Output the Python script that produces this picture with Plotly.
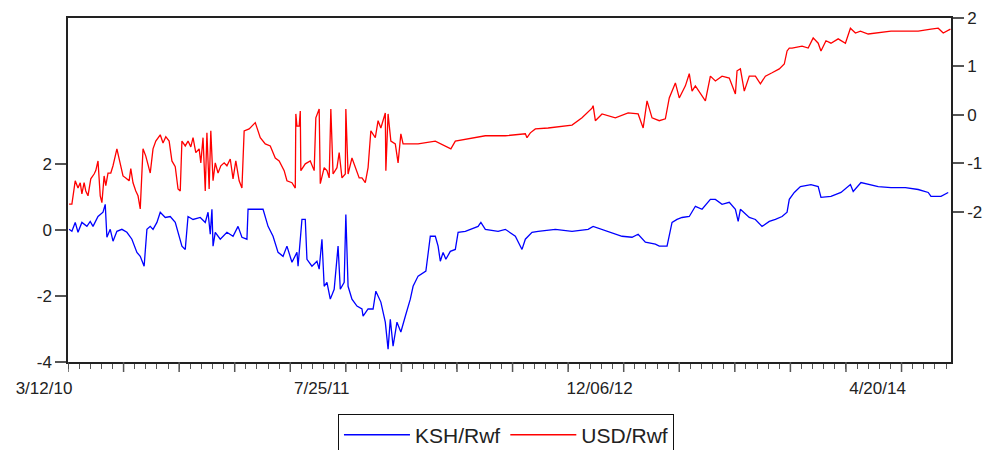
import plotly.graph_objects as go

# Day offsets are counted from 3/12/10 (first observation)
# KSH/Rwf (left axis): day offsets and values
DAYS_KSH = [2, 7, 13, 18, 25, 34, 40, 45, 54, 63, 67, 70, 76, 81, 88, 97, 106, 115, 124, 130,
            137, 142, 148, 153, 160, 166, 175, 184, 193, 205, 211, 216, 225, 238, 247, 252, 256, 259, 261, 265,
            274, 286, 297, 306, 313, 322, 324, 340, 351, 360, 369, 378, 387, 394, 403, 412, 414, 421, 427, 430,
            439, 448, 452, 457, 461, 466, 472, 479, 486, 490, 497, 500, 504, 511, 520, 529, 531, 540, 549, 554,
            563, 571, 576, 580, 585, 592, 599, 607, 616, 621, 630, 644, 652, 661, 666, 670, 675, 680, 688, 697,
            702, 715, 725, 738, 743, 751, 774, 787, 805, 817, 823, 835, 846, 877, 907, 936, 945, 961, 979, 997,
            1015, 1026, 1039, 1057, 1064, 1078, 1087, 1096, 1105, 1118, 1129, 1141, 1156, 1165, 1177, 1190, 1201, 1206, 1210, 1226,
            1237, 1249, 1262, 1273, 1285, 1294, 1298, 1307, 1318, 1337, 1350, 1355, 1373, 1391, 1408, 1413, 1427, 1440, 1458, 1481,
            1507, 1530, 1548, 1553, 1571, 1584]
KSH = [0.03, -0.03, 0.24, -0.06, 0.24, 0.12, 0.27, 0.12, 0.42, 0.55, 0.79, -0.21, 0.03, -0.33, -0.03, 0.03, -0.06, -0.27, -0.67, -0.79,
       -1.09, 0.03, 0.12, 0.03, 0.24, 0.55, 0.39, 0.42, 0.24, -0.48, -0.58, 0.42, 0.33, 0.39, 0.24, 0.55, -0.12, 0.64, -0.48, -0.06,
       -0.27, -0.06, -0.18, 0.12, -0.21, -0.27, 0.64, 0.64, 0.64, 0.12, -0.18, -0.67, -0.79, -0.48, -0.97, -0.67, -1.09, 0.33, 0.33, -0.88,
       -1.09, -0.94, -1.18, -0.27, -1.70, -1.58, -2.09, -1.79, -0.48, -1.79, -1.58, 0.48, -1.70, -2.09, -2.30, -2.39, -2.61, -2.39, -2.39, -1.85,
       -2.18, -2.79, -3.61, -2.70, -3.52, -2.79, -3.09, -2.61, -2.09, -1.70, -1.39, -1.24, -0.18, -0.18, -0.48, -0.94, -0.67, -0.88, -0.64, -0.58,
       -0.06, -0.03, 0.03, 0.12, 0.24, 0.03, -0.03, 0.03, -0.18, -0.58, -0.27, -0.06, -0.03, 0.03, -0.03, 0.03, 0.12, 0.03, -0.06, -0.18,
       -0.21, -0.12, -0.36, -0.42, -0.48, -0.48, 0.24, 0.33, 0.39, 0.42, 0.73, 0.64, 0.94, 0.94, 0.79, 0.85, 0.64, 0.27, 0.64, 0.39,
       0.33, 0.12, 0.27, 0.33, 0.42, 0.55, 0.94, 1.15, 1.33, 1.39, 1.33, 1.00, 1.03, 1.15, 1.39, 1.18, 1.45, 1.39, 1.33, 1.30,
       1.30, 1.24, 1.15, 1.03, 1.03, 1.15]

# USD/Rwf (right axis): day offsets and values
DAYS_USD = [2, 7, 13, 18, 22, 25, 29, 32, 36, 41, 47, 50, 54, 58, 61, 65, 68, 72, 77, 81,
            88, 94, 99, 104, 110, 113, 117, 122, 126, 130, 135, 140, 148, 153, 158, 166, 171, 176, 182, 187,
            193, 198, 202, 205, 211, 216, 221, 225, 230, 236, 239, 243, 247, 250, 254, 257, 261, 265, 270, 275,
            281, 286, 292, 297, 302, 308, 313, 317, 326, 337, 346, 355, 364, 373, 380, 389, 394, 403, 409, 410,
            412, 416, 418, 419, 427, 436, 443, 446, 452, 454, 461, 466, 470, 473, 477, 484, 488, 493, 499, 500,
            504, 511, 517, 524, 529, 535, 540, 545, 553, 558, 563, 571, 572, 576, 581, 589, 594, 599, 603, 630,
            661, 689, 697, 720, 751, 787, 823, 826, 832, 841, 864, 907, 925, 943, 945, 949, 961, 985, 1008, 1026,
            1035, 1042, 1051, 1064, 1075, 1082, 1093, 1100, 1111, 1118, 1123, 1129, 1141, 1147, 1156, 1165, 1177, 1190, 1201, 1204,
            1210, 1217, 1226, 1237, 1246, 1255, 1267, 1280, 1289, 1294, 1298, 1303, 1321, 1332, 1341, 1350, 1355, 1364, 1373, 1386,
            1399, 1408, 1417, 1426, 1440, 1458, 1481, 1507, 1530, 1553, 1566, 1575, 1588]
USD = [-1.84, -1.84, -1.36, -1.51, -1.40, -1.63, -1.40, -1.57, -1.67, -1.32, -1.22, -1.15, -0.95, -1.67, -1.81, -1.26, -1.46, -1.20, -1.20, -1.05,
       -0.70, -1.05, -1.26, -1.30, -1.36, -1.11, -1.40, -1.57, -1.67, -1.94, -0.70, -0.85, -1.20, -0.70, -0.54, -0.41, -0.58, -0.45, -0.54, -0.95,
       -1.07, -1.53, -1.57, -0.54, -0.64, -0.54, -0.66, -0.47, -0.78, -0.70, -0.99, -0.47, -1.57, -0.37, -1.53, -0.33, -1.36, -0.99, -1.20, -1.05,
       -0.99, -1.05, -0.91, -1.32, -0.95, -1.36, -1.51, -0.33, -0.29, -0.16, -0.47, -0.60, -0.64, -0.89, -0.95, -1.15, -1.36, -1.40, -1.51, 0.02,
       -0.23, -0.23, 0.08, -1.15, -1.01, -0.95, -1.15, -0.06, 0.12, -1.42, -1.09, -1.15, -1.30, 0.12, -1.22, -1.09, -0.78, -1.30, -1.22, 0.12,
       -1.22, -0.89, -1.09, -1.30, -1.30, -1.40, -1.09, -0.33, -0.47, -0.12, -0.27, 0.04, -1.15, 0.02, -0.54, -0.60, -0.99, -0.39, -0.60, -0.60,
       -0.54, -0.70, -0.54, -0.49, -0.43, -0.43, -0.39, -0.47, -0.37, -0.29, -0.27, -0.21, -0.06, 0.14, 0.19, -0.12, 0.02, -0.06, 0.04, 0.02,
       -0.27, 0.29, -0.06, -0.12, -0.08, 0.35, 0.66, 0.35, 0.60, 0.85, 0.49, 0.60, 0.39, 0.29, 0.80, 0.70, 0.80, 0.76, 0.43, 0.91,
       0.95, 0.49, 0.80, 0.80, 0.64, 0.80, 0.87, 0.95, 1.05, 1.32, 1.38, 1.38, 1.42, 1.38, 1.59, 1.48, 1.32, 1.53, 1.48, 1.57,
       1.48, 1.79, 1.69, 1.73, 1.67, 1.69, 1.73, 1.73, 1.73, 1.77, 1.79, 1.69, 1.77]

LABEL_DAYS = [0, 500, 1000, 1500]
LABEL_TEXT = ["3/12/10", "7/25/11", "12/06/12", "4/20/14"]
LEFT_TICKS = [-4, -2, 0, 2]
LEFT_TEXT = ["-4", "-2", "0", "2"]
RIGHT_TICKS = [-2, -1, 0, 1, 2]
RIGHT_TEXT = ["-2", "-1", "0", "1", "2"]

all_days = list(range(0, 1590, 20))          # short ticks every 20 days
major_days = list(range(0, 1590, 100))       # long ticks every 100 days
all_text = [LABEL_TEXT[LABEL_DAYS.index(d)] if d in LABEL_DAYS else "" for d in all_days]

FONT = "Liberation Sans, Arial, sans-serif"
AX = "#222222"
TICKC = "#555555"

fig = go.Figure()
fig.add_trace(go.Scatter(x=DAYS_KSH, y=KSH, name="KSH/Rwf", mode="lines",
                         line=dict(color="#0000FF", width=1.3), yaxis="y"))
fig.add_trace(go.Scatter(x=DAYS_USD, y=USD, name="USD/Rwf", mode="lines",
                         line=dict(color="#FF0000", width=1.3), yaxis="y2"))

# long (major) tick marks below the x axis, placed through the x scale
for d in major_days:
    fig.add_shape(type="line", xref="x", yref="paper", x0=d, x1=d,
                  ysizemode="pixel", yanchor=0, y0=0, y1=-10,
                  line=dict(color=TICKC, width=1.5), layer="above")

fig.update_layout(
    width=992, height=450,
    margin=dict(l=68, r=41, t=18, b=88, autoexpand=False),
    plot_bgcolor="white", paper_bgcolor="white",
    font=dict(family=FONT, size=17, color="#222222"),
    showlegend=True,
    legend=dict(orientation="h", x=0.496, xanchor="center", y=-0.15, yanchor="top",
                bordercolor="#111111", borderwidth=1, bgcolor="white",
                font=dict(size=21, family=FONT, color="#222222"), itemwidth=66,
                traceorder="normal"),
    xaxis=dict(
        range=[0, 1589],
        showgrid=False, zeroline=False,
        showline=True, linecolor=AX, linewidth=1.5, mirror=True,
        tickmode="array", tickvals=all_days, ticktext=all_text,
        ticks="outside", ticklen=5, tickwidth=1.3, tickcolor=TICKC,
        ticklabelshift=-24, ticklabelstandoff=5,
        tickfont=dict(size=17),
    ),
    yaxis=dict(
        range=[-4, 6.45], showgrid=False, zeroline=False,
        showline=True, linecolor=AX, linewidth=1.5,
        tickmode="array", tickvals=LEFT_TICKS, ticktext=LEFT_TEXT,
        ticks="outside", ticklen=11, tickwidth=1.5, tickcolor=TICKC,
        tickfont=dict(size=17),
    ),
    yaxis2=dict(
        range=[-5.1, 2.0], overlaying="y", side="right",
        showgrid=False, zeroline=False,
        showline=True, linecolor=AX, linewidth=1.5,
        tickmode="array", tickvals=RIGHT_TICKS, ticktext=RIGHT_TEXT,
        ticks="outside", ticklen=11, tickwidth=1.5, tickcolor=TICKC,
        tickfont=dict(size=17),
    ),
)

fig.write_html("out.html")
